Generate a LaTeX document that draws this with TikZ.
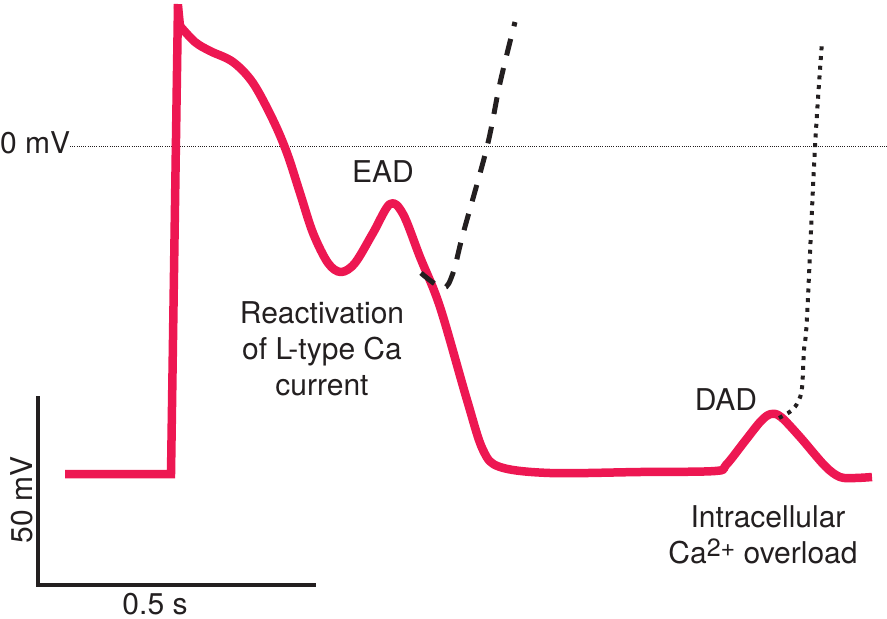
\documentclass[tikz,border=0pt]{standalone}
\usepackage{fontspec}
\setmainfont{TeX Gyre Heros}
\definecolor{apred}{RGB}{237,23,82}
\definecolor{ink}{RGB}{35,31,32}
\begin{document}
\begin{tikzpicture}[x=1pt,y=-1pt,
  lbl/.style={inner sep=0pt, anchor=base, text=ink, font=\fontsize{30}{36}\selectfont},
  trace/.style={draw=apred, line width=8.5pt},
  eadpath/.style={draw=ink, line width=5pt, dash pattern=on 17pt off 13pt},
  dadpath/.style={draw=ink, line width=4pt, dash pattern=on 4pt off 5.7pt},
  zeroline/.style={draw=ink, line width=0.9pt, dash pattern=on 1pt off 1.2pt},
  scalebar/.style={draw=ink, line width=3.2pt}]
\useasboundingbox (0,0) rectangle (887,619);
% zero line
\node[lbl, anchor=base west] (zmv) at (0,153) {0 mV};
\coordinate (zl) at (70,146);
\coordinate (zr) at (887,146);
\draw[zeroline] (zl) -- (zr);
% scale bar
\coordinate (sbt) at (38,396);
\coordinate (sbc) at (38,585);
\coordinate (sbr) at (316,585);
\draw[scalebar] (sbt) -- (sbc) -- (sbr);
\node[lbl, rotate=90] (vlab) at (32,500) {50 mV};
\node[lbl] (hlab) at (155,614) {0.5 s};
% action potential
\draw[trace] (65,474) -- (171,474) -- (178,4);
\draw[trace, line join=round] (178,6) -- (180,26) -- plot[smooth, tension=0.55] coordinates {(180,26) (195,42) (210,51) (233,62) (253,83) (273,120) (287,153) (300,193) (313,233) (328,263) (341,272) (355,263) (373,233) (390,204) (403,214) (420,257) (440,307) (467,400) (483,450) (500,467) (550,473) (640,472) (715,471) (726,465) (745,441) (761,421) (771,414) (781,417) (800,437) (825,466) (840,477) (855,478) (872,477)};
% EAD triggered upstroke
\draw[eadpath] plot[smooth, tension=0.55] coordinates {(421,273) (443,288) (453,273) (463,234) (487,147) (500,83) (515,22)};
% DAD triggered upstroke
\draw[dadpath] plot[smooth, tension=0.55] coordinates {(779,418) (791,411) (798,402) (802,388) (804,350) (807,317) (815,147) (822,42)};
% labels
\node[lbl] (ead) at (383,182) {EAD};
\node[lbl] (rea1) at (322,323) {Reactivation};
\node[lbl] (rea2) at (322,359) {of L-type Ca};
\node[lbl] (rea3) at (322,395) {current};
\node[lbl] (dad) at (726,410) {DAD};
\node[lbl] (int1) at (768,527) {Intracellular};
\node[lbl] (int2) at (763,563) {Ca\raisebox{7pt}{\fontsize{25}{25}\selectfont 2+} overload};
\end{tikzpicture}
\end{document}
